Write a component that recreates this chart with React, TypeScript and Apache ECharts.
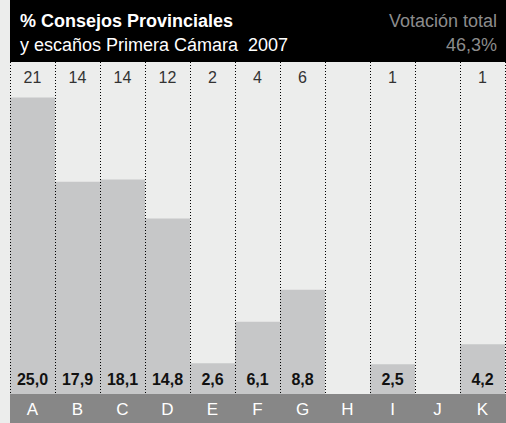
import React, { useEffect, useRef } from "react";
import * as echarts from "echarts";

const categories = ["A", "B", "C", "D", "E", "F", "G", "H", "I", "J", "K"];
const percentValues: (number | null)[] = [25.0, 17.9, 18.1, 14.8, 2.6, 6.1, 8.8, null, 2.5, null, 4.2];
const seats = ["21", "14", "14", "12", "2", "4", "6", "", "1", "", "1"];
const titleLine1 = "% Consejos Provinciales";
const titleLine2 = "y escaños Primera Cámara  2007";
const totalLabel = "Votación total";
const totalValue = "46,3%";

const FONT = "Liberation Sans";

export default function App() {
  const ref = useRef<HTMLDivElement>(null);
  useEffect(() => {
    document.body.style.margin = "0";
    const chart = echarts.init(ref.current!, null, { renderer: "svg" });
    chart.setOption({
      animation: false,
      backgroundColor: "#ecedec",
      textStyle: { fontFamily: FONT },
      grid: { left: 10, right: 1, top: 62, bottom: 29 },
      xAxis: [
        {
          type: "category",
          data: categories,
          position: "bottom",
          z: 10,
          axisLine: { show: false },
          axisTick: { show: false },
          axisLabel: { color: "#ffffff", fontSize: 17, margin: 7, fontFamily: FONT },
          splitLine: { show: true, lineStyle: { color: "#000", width: 1, type: [1, 2] } },
        },
        {
          type: "category",
          data: seats,
          position: "top",
          axisLine: { show: false },
          axisTick: { show: false },
          splitLine: { show: false },
          axisLabel: { inside: true, color: "#333", fontSize: 16, margin: 7, fontFamily: FONT },
        },
      ],
      yAxis: { type: "value", min: 0, max: 28, show: false, splitLine: { show: false } },
      graphic: [
        { type: "rect", z: 0, shape: { x: 10, y: 0, width: 496, height: 62 }, style: { fill: "#000" } },
        { type: "rect", z: 0, shape: { x: 10, y: 394, width: 496, height: 29 }, style: { fill: "#878787" } },
        { type: "text", z: 5, x: 20, y: 21, style: { text: titleLine1, fill: "#fff", fontSize: 18, fontWeight: "bold", fontFamily: FONT, verticalAlign: "middle" } },
        { type: "text", z: 5, x: 20, y: 45, style: { text: titleLine2, fill: "#fff", fontSize: 18, fontFamily: FONT, verticalAlign: "middle" } },
        { type: "text", z: 5, x: 497, y: 21, style: { text: totalLabel, fill: "#8c8c8c", fontSize: 18, fontFamily: FONT, align: "right", verticalAlign: "middle" } },
        { type: "text", z: 5, x: 497, y: 45, style: { text: totalValue, fill: "#8c8c8c", fontSize: 18, fontFamily: FONT, align: "right", verticalAlign: "middle" } },
      ],
      series: [
        {
          type: "bar",
          data: percentValues.map((v) => (v === null ? "-" : v)),
          barWidth: "100%",
          barCategoryGap: 0,
          itemStyle: { color: "#c6c7c8" },
          label: {
            show: true,
            position: "insideBottom",
            distance: 7,
            color: "#111",
            fontWeight: "bold",
            fontSize: 16,
            fontFamily: FONT,
            formatter: (p: any) => Number(p.value).toFixed(1).replace(".", ","),
          },
        },
      ],
    });
    return () => chart.dispose();
  }, []);
  return <div ref={ref} style={{ width: 506, height: 423 }} />;
}
